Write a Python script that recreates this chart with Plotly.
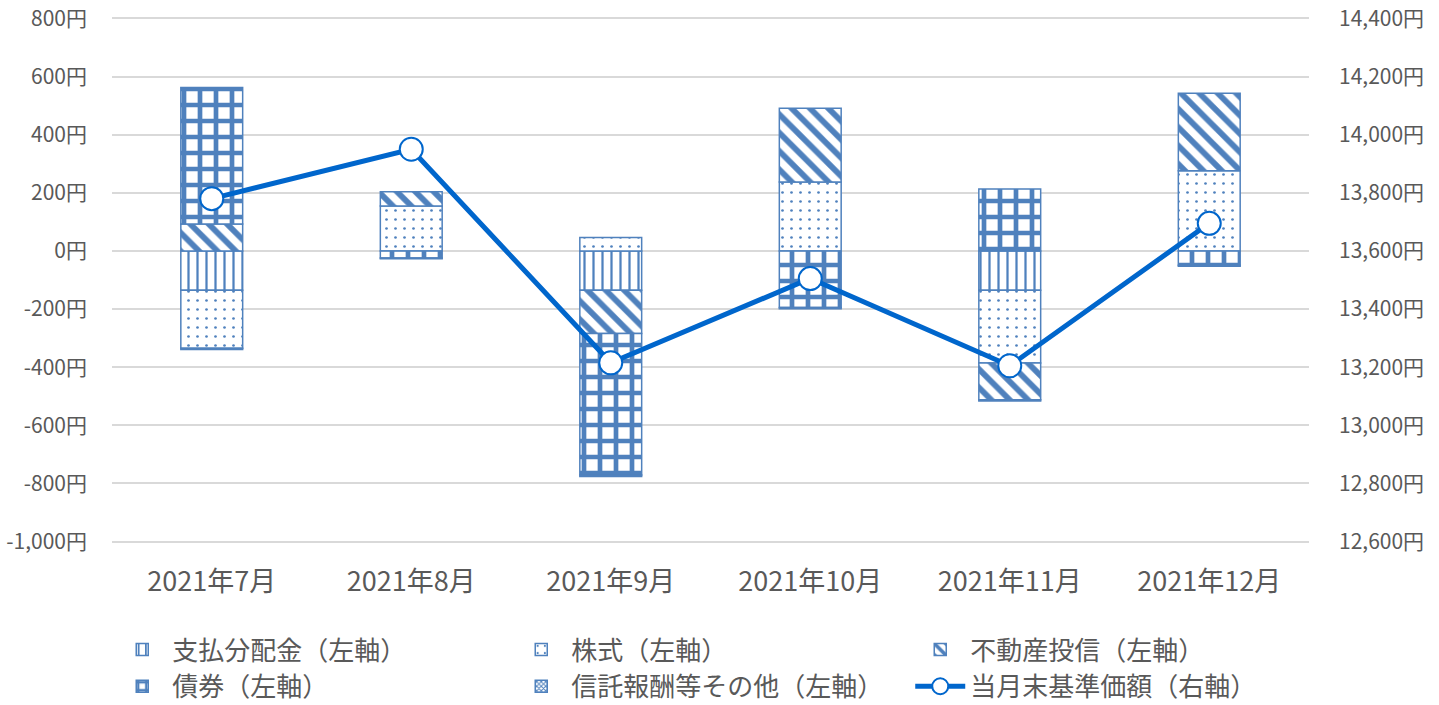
import plotly.graph_objects as go

months = ["2021年7月", "2021年8月", "2021年9月", "2021年10月", "2021年11月", "2021年12月"]
dividend = [-135, 0, -135, 0, -135, 0]
stocks = [-200, 155, 46, 237, -251, 276]
reit = [93, 49, -149, 254, -126, 267]
bonds = [469, -24, -487, -195, 213, -49]
fees = [-4, -3, -5, -4, -4, -4]
nav = [13780, 13950, 13215, 13505, 13205, 13695]

left_ticks = list(range(-1000, 801, 200))
left_labels = [f"{v:,}円" for v in left_ticks]
right_ticks = list(range(12600, 14401, 200))
right_labels = [f"{v:,}円" for v in right_ticks]

names = ["支払分配金（左軸）", "株式（左軸）", "不動産投信（左軸）", "債券（左軸）", "信託報酬等その他（左軸）"]
patterns = [
    dict(shape="|", size=9, solidity=0.25),
    dict(shape=".", size=9, solidity=0.07),
    dict(shape="\\", size=13, solidity=0.45),
    dict(shape="+", size=16, solidity=0.5),
    dict(shape="x", size=4, solidity=0.5),
]
series = [dividend, stocks, reit, bonds, fees]

BAR = "#4F81BD"
LINE = "#0066CC"
FONT = "Noto Sans CJK JP"
GRAY = "#595959"

fig = go.Figure()
for nm, vals, pat in zip(names, series, patterns):
    fig.add_trace(go.Bar(
        x=months, y=vals, name=nm,
        marker=dict(color="white",
                    line=dict(color=BAR, width=1.5),
                    pattern=dict(fgcolor=BAR, bgcolor="white", fgopacity=1,
                                 fillmode="overlay", **pat)),
        yaxis="y",
    ))

fig.add_trace(go.Scatter(
    x=months, y=nav, name="当月末基準価額（右軸）", mode="lines+markers",
    line=dict(color=LINE, width=5),
    marker=dict(size=23, color="white", line=dict(color=LINE, width=2)),
    yaxis="y2",
))

fig.update_layout(
    width=1439, height=705,
    margin=dict(l=112, r=130, t=17, b=162, autoexpand=False),
    barmode="relative", bargap=0.69,
    plot_bgcolor="white", paper_bgcolor="white",
    font=dict(family=FONT, color=GRAY, size=21),
    xaxis=dict(showgrid=False, tickfont=dict(size=27), ticks="", showline=False,
               ticklabelstandoff=20),
    yaxis=dict(range=[-1005, 805], tickmode="array", tickvals=left_ticks, ticktext=left_labels,
               showgrid=True, gridcolor="#D9D9D9", gridwidth=2, zeroline=False,
               tickfont=dict(size=21), ticklabelstandoff=24),
    yaxis2=dict(range=[12595, 14405], tickmode="array", tickvals=right_ticks, ticktext=right_labels,
                overlaying="y", side="right", showgrid=False, zeroline=False,
                tickfont=dict(size=21), ticklabelstandoff=29),
    legend=dict(orientation="h", xref="container", yref="container",
                x=0.078, xanchor="left", y=0.112, yanchor="top",
                entrywidth=334, entrywidthmode="pixels", traceorder="normal",
                font=dict(size=26, color=GRAY), itemwidth=50, tracegroupgap=0),
    showlegend=True,
)

fig.write_html("out.html", config={"displayModeBar": False},
               post_script="document.body.style.margin='0';document.body.style.overflow='hidden';")
